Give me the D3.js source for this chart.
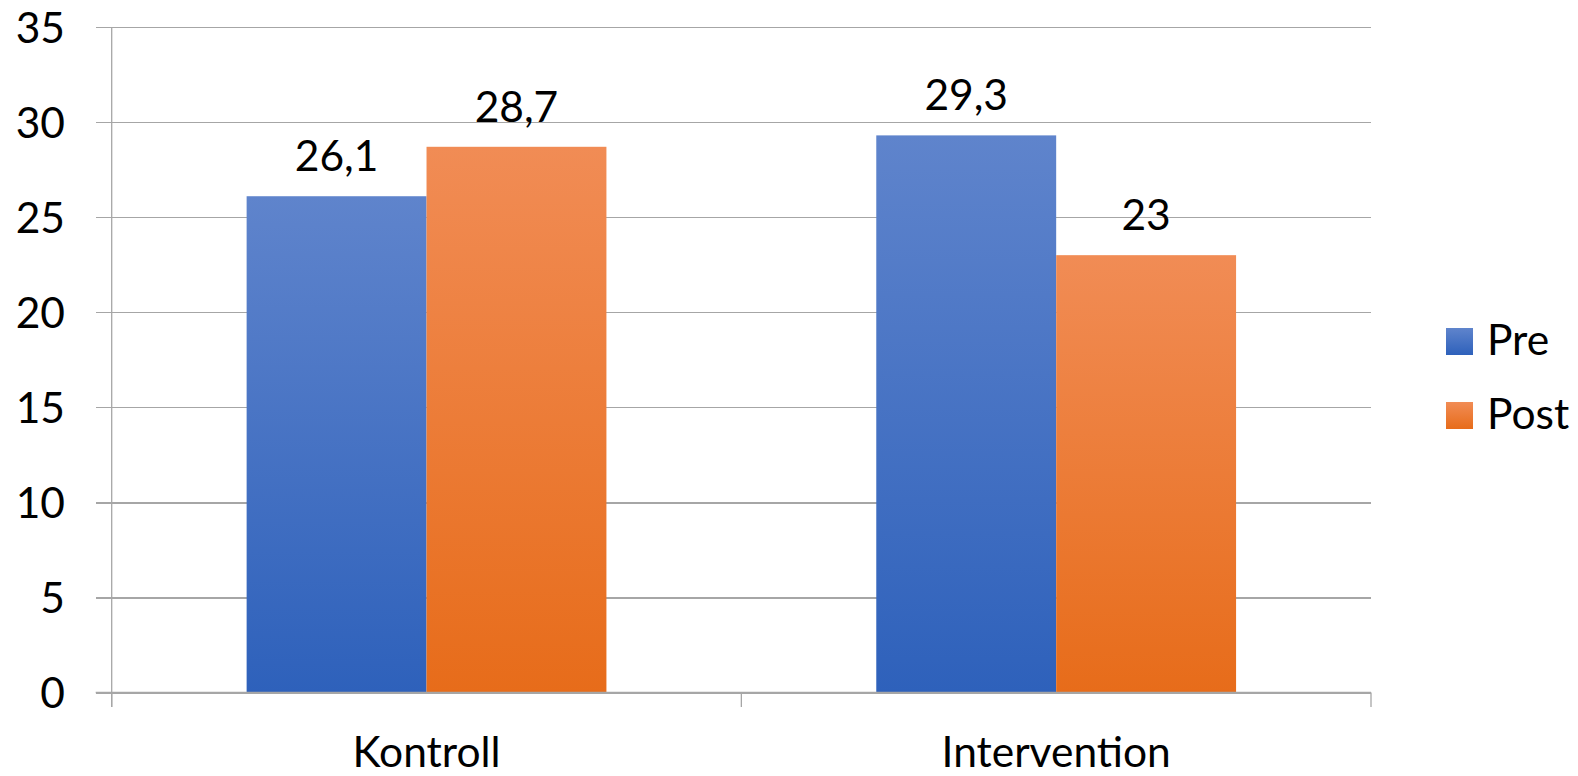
<!DOCTYPE html>
<html>
<head>
<meta charset="utf-8">
<script src="https://cdn.jsdelivr.net/npm/d3@7"></script>
<style>
  html, body { margin: 0; padding: 0; background: #fff; }
  svg { display: block; font-family: Lato, "Open Sans", sans-serif; }
</style>
</head>
<body>
<svg id="chart" width="1578" height="776"></svg>
<script>
// Data
const categories = ["Kontroll", "Intervention"];
const seriesNames = ["Pre", "Post"];
const preValues = [26.1, 29.3];
const postValues = [28.7, 23];
const yTicks = [0, 5, 10, 15, 20, 25, 30, 35];

const seriesValues = [preValues, postValues];
const rows = categories.map((c, i) => ({
  category: c,
  values: seriesNames.map((s, j) => ({ series: s, value: seriesValues[j][i] }))
}));

// Layout
const W = 1578, H = 776;
const plot = { left: 111.7, right: 1371, top: 27, bottom: 692.5 };
const fontSize = 42.5;
const gridColor = "#a6a6a6";

const svg = d3.select("#chart");

// Gradient fills (lighter at top, darker at the bottom)
const palette = {
  Pre:  { top: "#5f84cc", bottom: "#2e61bb" },
  Post: { top: "#f18c55", bottom: "#e76c1a" }
};
const defs = svg.append("defs");
seriesNames.forEach(s => {
  const g = defs.append("linearGradient")
    .attr("id", "grad-" + s)
    .attr("x1", 0).attr("y1", 0).attr("x2", 0).attr("y2", 1);
  g.append("stop").attr("offset", "0%").attr("stop-color", palette[s].top);
  g.append("stop").attr("offset", "100%").attr("stop-color", palette[s].bottom);
});

// Scales
const x0 = d3.scaleBand().domain(categories)
  .range([plot.left, plot.right]).paddingInner(0).paddingOuter(0);
// Gap width 150%: band = 2 bars + 1.5 bar widths
const barW = x0.bandwidth() / 3.5;
const x1 = d3.scaleBand().domain(seriesNames).range([0, barW * 2]);
const y = d3.scaleLinear().domain([0, 35]).range([plot.bottom, plot.top]);

const fmt = d3.formatLocale({ decimal: ",", thousands: ".", grouping: [3], currency: ["", ""] }).format("~g");

// Horizontal gridlines + y tick labels
const yAxis = d3.axisLeft(y).tickValues(yTicks).tickSize(plot.right - plot.left + 16).tickFormat(d => d);
const gy = svg.append("g")
  .attr("transform", `translate(${plot.right},0)`)
  .call(yAxis);
gy.select(".domain").remove();
gy.selectAll(".tick line").attr("stroke", gridColor).attr("stroke-width", 1.3).attr("shape-rendering", "crispEdges");
gy.selectAll(".tick text")
  .attr("x", -(plot.right - 65))
  .attr("dy", null)
  .attr("y", 15)
  .attr("text-anchor", "end")
  .attr("fill", "#000")
  .style("font-size", fontSize + "px")
  .style("font-family", "Lato, sans-serif");

// Vertical axis line
svg.append("line")
  .attr("x1", plot.left).attr("x2", plot.left)
  .attr("y1", plot.top).attr("y2", plot.bottom + 14.5)
  .attr("stroke", gridColor).attr("stroke-width", 1.3);

// Bars
const groups = svg.selectAll("g.cat").data(rows).join("g")
  .attr("class", "cat")
  .attr("transform", d => `translate(${x0(d.category) + (x0.bandwidth() - barW * 2) / 2},0)`);

groups.selectAll("rect").data(d => d.values).join("rect")
  .attr("x", d => x1(d.series))
  .attr("y", d => y(d.value))
  .attr("width", x1.bandwidth())
  .attr("height", d => y(0) - y(d.value))
  .attr("fill", d => `url(#grad-${d.series})`);

// Value labels
groups.selectAll("text.val").data(d => d.values).join("text")
  .attr("class", "val")
  .attr("x", d => x1(d.series) + x1.bandwidth() / 2)
  .attr("y", d => y(d.value) - 25)
  .attr("text-anchor", "middle")
  .attr("fill", "#000")
  .style("font-size", fontSize + "px")
  .text(d => fmt(d.value));

// Category axis (bottom) with boundary ticks
const xAxis = d3.axisBottom(x0).tickSize(0).tickSizeOuter(0);
const gx = svg.append("g")
  .attr("transform", `translate(0,${plot.bottom})`)
  .call(xAxis);
gx.select(".domain").remove();
gx.selectAll(".tick text")
  .attr("y", 74)
  .attr("dy", null)
  .attr("fill", "#000")
  .style("font-size", fontSize + "px")
  .style("font-family", "Lato, sans-serif");

// Zero line over the bars
svg.append("line")
  .attr("x1", plot.left - 16).attr("x2", plot.right)
  .attr("y1", y(0)).attr("y2", y(0))
  .attr("stroke", gridColor).attr("stroke-width", 1.3);

const boundaries = [plot.left, ...categories.map(c => x0(c) + x0.bandwidth())];
svg.selectAll("line.cattick").data(boundaries).join("line")
  .attr("class", "cattick")
  .attr("x1", d => d).attr("x2", d => d)
  .attr("y1", plot.bottom).attr("y2", plot.bottom + 14.5)
  .attr("stroke", gridColor).attr("stroke-width", 1.3);

// Legend
const legend = svg.append("g").attr("transform", "translate(1446,328)");
const li = legend.selectAll("g").data(seriesNames).join("g")
  .attr("transform", (d, i) => `translate(0,${i * 74})`);
li.append("rect")
  .attr("width", 27).attr("height", 27)
  .attr("fill", d => `url(#grad-${d})`);
li.append("text")
  .attr("x", 41).attr("y", 27)
  .attr("fill", "#000")
  .style("font-size", fontSize + "px")
  .text(d => d);
</script>
</body>
</html>
